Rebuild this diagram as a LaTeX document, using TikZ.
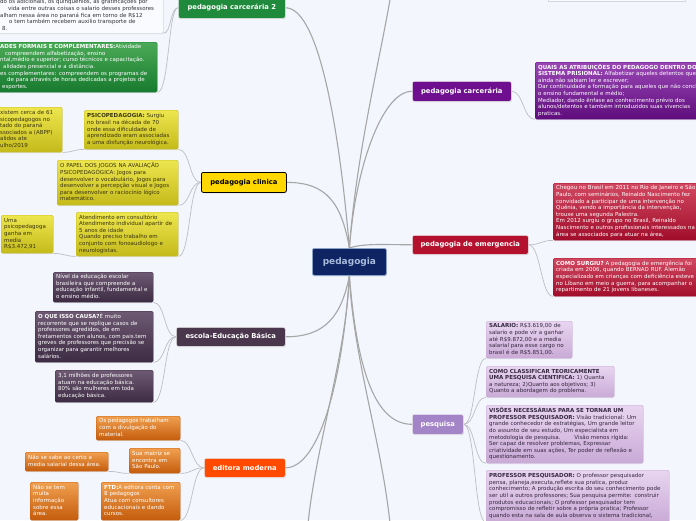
\documentclass[tikz,border=0pt]{standalone}
\usepackage{fontspec}
\setmainfont{DejaVu Sans}
\usetikzlibrary{shadows}
\definecolor{bgc}{HTML}{F3F6FD}
\definecolor{brc}{HTML}{A6A6A6}
\definecolor{chc}{HTML}{BEBEC4}
\definecolor{ctrfill}{HTML}{0E2463}
\definecolor{ctrdraw}{HTML}{8CA0C8}
\definecolor{ctrtext}{HTML}{AABCDC}
\definecolor{grn}{HTML}{208A3C}
\definecolor{ylw}{HTML}{FFD800}
\definecolor{mve}{HTML}{4A374D}
\definecolor{org}{HTML}{FF4A00}
\definecolor{prp}{HTML}{6D0F8E}
\definecolor{crm}{HTML}{B3112E}
\definecolor{lav}{HTML}{A384C6}
\definecolor{grnT}{HTML}{4BAA57}\definecolor{grnB}{HTML}{177A2E}
\definecolor{ylwT}{HTML}{EDE64E}\definecolor{ylwB}{HTML}{C4BA1B}
\definecolor{mveT}{HTML}{6E5A73}\definecolor{mveB}{HTML}{3C2B42}
\definecolor{orgT}{HTML}{F0A050}\definecolor{orgB}{HTML}{C45C0C}
\definecolor{prpT}{HTML}{9A47B6}\definecolor{prpB}{HTML}{5F0C7C}
\definecolor{crmT}{HTML}{D24861}\definecolor{crmB}{HTML}{A00D2A}
\definecolor{lavT}{HTML}{E8D5F0}\definecolor{lavB}{HTML}{C9AAD6}
\definecolor{ytext}{HTML}{3B3510}
\definecolor{ltext}{HTML}{35273F}
\definecolor{wbox}{HTML}{FAFBFF}
\definecolor{wdraw}{HTML}{D3D6DF}
\newcommand{\mltxt}[1]{\noindent\begin{tabular}{@{}l@{}}#1\end{tabular}}
\pgfdeclarelayer{bgl}
\pgfsetlayers{bgl,main}
\tikzset{
  sz/.code 2 args={\pgfmathsetmacro\boxtw{#1-6}\pgfkeysalso{minimum width=#1pt,minimum height=#2pt,text width=\boxtw pt}},
  kid/.style 2 args={anchor=north west, rounded corners=1.5pt, top color=#1, bottom color=#2, draw=#2, line width=0.4pt, inner xsep=3pt, inner ysep=0pt, align=left, font=\fontsize{5.5}{6.6}\selectfont, text=white, drop shadow={opacity=0.15, shadow xshift=0.4pt, shadow yshift=-0.8pt}},
  branch/.style={anchor=north west, rounded corners=2pt, inner sep=0pt, font=\bfseries\fontsize{6.8}{8}\selectfont, text=white, draw=white!85!gray, line width=0.6pt, drop shadow={opacity=0.25, shadow xshift=0.5pt, shadow yshift=-0.9pt}},
  bsz/.style 2 args={minimum width=#1pt, minimum height=#2pt},
  brl/.style={draw=brc, line width=1.1pt},
  chl/.style={draw=chc, line width=0.7pt},
}
\begin{document}
\begin{tikzpicture}[x=1pt,y=-1pt]
\useasboundingbox (0,0) rectangle (696,520);
\begin{pgfonlayer}{bgl}
\fill[bgc] (0,0) rectangle (696,520);
\end{pgfonlayer}

% central node
\node[anchor=north west, minimum width=74pt, minimum height=27pt, inner sep=0pt, rounded corners=2pt, fill=ctrfill, draw=ctrdraw, line width=0.8pt, text=ctrtext, font=\bfseries\fontsize{9}{11}\selectfont, drop shadow={opacity=0.25, shadow xshift=0.5pt, shadow yshift=-0.9pt}] (ctr) at (312,248) {pedagogia};

% main branches
\node[branch, bsz={107}{21}, fill=grn] (gr2) at (178,-3) {pedagogia carcerária 2};
\node[branch, bsz={85}{20}, fill=ylw, draw=black, line width=0.8pt, text=black] (clin) at (201,172) {pedagogia clinica};
\node[branch, bsz={109}{19}, fill=mve] (esc) at (176,327) {escola-Educação Básica};
\node[branch, bsz={81}{19}, fill=org] (edi) at (204,458) {editora moderna};
\node[branch, bsz={99}{20}, fill=prp] (carc) at (412,81) {pedagogia carcerária};
\node[branch, bsz={116}{19}, fill=crm] (emer) at (412,235) {pedagogia de emergencia};
\node[branch, bsz={51}{20}, fill=lav] (pesq) at (412,414) {pesquisa};

% partial box at the top right
\node[anchor=north west, minimum width=137pt, minimum height=21pt, inner sep=0pt, fill=wbox, draw=wdraw, line width=0.5pt] (topbox) at (548,-20.5) {};

% off-canvas ends
\coordinate (offt) at (394,-30);
\coordinate (offb1) at (306,550);
\coordinate (offb2) at (392,550);

% green children
\node[kid={wbox}{wbox}, draw=wdraw, text=black!80, sz={166}{35}] (boxA) at (-3,-2) {\mltxt{do os adicionais, os quinquênios, as gratificações por\\
\hspace{8pt}vida entre outras coisas o salario desses professores\\
alham nessa área no paraná fica em torno de R\$12\\
\hspace{9pt}o tem também recebem auxilio transporte de\\
\hspace{2pt}8.}};
\node[kid={grnT}{grnB}, sz={160}{50}] (boxB) at (-3,42) {\mltxt{\textbf{ADES FORMAIS E COMPLEMENTARES:}Atividade\\
\hspace{5pt}compreendem alfabetização, ensino\\
ntal,médio e superior; curso técnicos e capacitação.\\
\hspace{3pt}alidades presencial e a distância.\\
es complementares: compreendem os programas de\\
\hspace{7pt}de para através de horas dedicadas a projetos de\\
\hspace{2pt}esportes.}};

% clinic children
\node[kid={ylwT}{ylwB}, text=ytext, sz={94}{39}] (P1) at (84,110) {\mltxt{\textbf{PSICOPEDAGOGIA:} Surgiu\\no brasil na década de 70\\onde essa dificuldade de\\aprendizado eram associadas\\a uma disfunção neurológica.}};
\node[kid={ylwT}{ylwB}, text=ytext, sz={121}{45}] (P2) at (57,160) {\mltxt{O PAPEL DOS JOGOS NA AVALIAÇÃO\\PSICOPEDAGÓGICA: Jogos para\\desenvolver o vocabulário, Jogos para\\desenvolver a percepção visual e Jogos\\para desenvolver o raciocínio lógico\\matemático.}};
\node[kid={ylwT}{ylwB}, text=ytext, sz={102}{44}] (P3) at (76,212) {\mltxt{Atendimento em consultório\\Atendimento individual apartir de\\5 anos de idade\\Quando preciso trabalho em\\conjunto com fonoaudiologo e\\neurologistas.}};
\node[kid={ylwT}{ylwB}, text=ytext, sz={65}{45}] (P4) at (-3,107) {\mltxt{xistem cerca de 61\\sicopedagogos no\\tado do paraná\\ssociados a (ABPP)\\alidos ate\\ulho/2019}};
\node[kid={ylwT}{ylwB}, text=ytext, sz={52}{38}] (P5) at (1,215) {\mltxt{Uma\\psicopedagoga\\ganha em\\media\\R\$3.472,91}};

% escola children
\node[kid={mveT}{mveB}, sz={100}{30}] (E1) at (53,272) {\mltxt{Nível da educação escolar\\brasileira que compreende a\\educação infantil, fundamental e\\o ensino médio.}};
\node[kid={mveT}{mveB}, sz={118}{51}] (E2) at (35,311) {\mltxt{\textbf{O QUE ISSO CAUSA?}É muito\\recorrente que se replique casos de\\professores agredidos, de em\\fretamentos com alunos, com pais.tem\\greves de professores que precisão se\\organizar para garantir melhores\\salários.}};
\node[kid={mveT}{mveB}, sz={98}{32}] (E3) at (55,370) {\mltxt{3,1 milhões de professores\\atuam na educação básica.\\80\% são mulheres em toda\\educação básica.}};

% editora children
\node[kid={orgT}{orgB}, sz={84}{24}] (O1) at (96,416) {\mltxt{Os pedagogos trabalham\\com a divulgação do\\material.}};
\node[kid={orgT}{orgB}, sz={51}{25}] (O2) at (129,448) {\mltxt{Sua matriz se\\encontra em\\São Paulo.}};
\node[kid={orgT}{orgB}, sz={79}{38}] (O3) at (101,482) {\mltxt{\textbf{FTD:}A editora conta com\\8 pedagogos\\Atua com consultores\\educacionais e dando\\cursos.}};
\node[kid={orgT}{orgB}, sz={83}{19}] (O4) at (25,452) {\mltxt{Não se sabe ao certo a\\media salarial dessa área.}};
\node[kid={orgT}{orgB}, sz={48}{38}] (O5) at (30,482) {\mltxt{Não se tem\\muita\\informação\\sobre essa\\área.}};

% carceraria child
\node[kid={prpT}{prpB}, sz={175}{57}] (C1) at (535,62) {\mltxt{\textbf{QUAIS AS ATRIBUIÇÕES DO PEDAGOGO DENTRO DO}\\\textbf{SISTEMA PRISIONAL:} Alfabetizar aqueles detentos que\\ainda não sabiam ler e escrever;\\Dar continuidade a formação para aqueles que não concluíram\\o ensino fundamental e médio;\\Mediador, dando ênfase ao conhecimento prévio dos\\alunos/detentos e também introduzidos suas vivencias\\praticas.}};

% emergencia children
\node[kid={crmT}{crmB}, sz={155}{57}] (R1) at (553,183) {\mltxt{Chegou no Brasil em 2011 no Rio de Janeiro e São\\Paulo, com seminários, Reinaldo Nascimento fez\\convidado a participar de uma intervenção no\\Quênia, vendo a importância da intervenção,\\trouxe uma segunda Palestra.\\Em 2012 surgiu o grupo no Brasil, Reinaldo\\Nascimento e outros profissionais interessados na\\área se associados para atuar na área,}};
\node[kid={crmT}{crmB}, sz={155}{38}] (R2) at (553,258) {\mltxt{\textbf{COMO SURGIU?} A pedagogia de emergência foi\\criada em 2006, quando BERNAD RUF. Alemão\\especializado em crianças com deficiência esteve\\no Líbano em meio a guerra, para acompanhar o\\repartimento de 21 jovens libaneses.}};

% pesquisa children
\node[kid={lavT}{lavB}, text=ltext, sz={86}{37}] (Q1) at (486,321) {\mltxt{\textbf{SALARIO:} R\$3.619,00 de\\salario e pode vir a ganhar\\até R\$9.872,00 e a media\\salarial para esse cargo no\\brasil é de R\$5.851,00.}};
\node[kid={lavT}{lavB}, text=ltext, sz={128}{31}] (Q2) at (486,366) {\mltxt{\textbf{COMO CLASSIFICAR TEORICAMENTE}\\\textbf{UMA PESQUISA CIENTIFICA:} 1) Quanta\\a natureza; 2)Quanto aos objetivos; 3)\\Quanto a abordagem do problema.}};
\node[kid={lavT}{lavB}, text=ltext, sz={157}{58}] (Q3) at (486,405) {\mltxt{\textbf{VISÕES NECESSÁRIAS PARA SE TORNAR UM}\\\textbf{PROFESSOR PESQUISADOR:} Visão tradicional: Um\\grande conhecedor de estratégias, Um grande leitor\\do assunto de seu estudo, Um especialista em\\metodologia de pesquisa.\hspace{14pt}Visão menos rígida:\\Ser capaz de resolver problemas, Expressar\\criatividade em suas ações, Ter poder de reflexão e\\questionamento.}};
\node[kid={lavT}{lavB}, text=ltext, sz={183}{52}] (Q4) at (486,470) {\mltxt{\textbf{PROFESSOR PESQUISADOR:} O professor pesquisador\\pensa, planeja,executa,reflete sua pratica, produz\\conhecimento; A produção escrita do seu conhecimento pode\\ser util a outros professores; Sua pesquisa permite: construir\\produtos educacionais; O professor pesquisador tem\\compromisso de refletir sobre a própria pratica; Professor\\quando esta na sala de aula observa o sistema tradicional,}};

\begin{pgfonlayer}{bgl}
% branch connectors
\draw[brl] (ctr.north) .. controls +(-12,-140) and +(30,0) .. (gr2.east);
\draw[brl] (ctr.north) .. controls +(-8,-45) and +(40,0) .. (clin.east);
\draw[brl] (ctr.north) .. controls +(8,-110) and +(-4,50) .. (offt);
\draw[brl] (ctr.north) .. controls +(6,-80) and +(-30,0) .. (carc.west);
\draw[brl] (ctr.north) .. controls +(15,-5) and +(-25,0) .. (emer.west);
\draw[brl] (ctr.south) .. controls +(-8,40) and +(40,0) .. (esc.east);
\draw[brl] (ctr.south) .. controls +(-8,120) and +(30,0) .. (edi.east);
\draw[brl] (ctr.south) .. controls +(8,100) and +(-35,0) .. (pesq.west);
\draw[brl] (ctr.south) .. controls +(-4,90) and +(4,-90) .. (offb1);
\draw[brl] (ctr.south) .. controls +(4,90) and +(-4,-90) .. (offb2);
% child connectors
\draw[chl] (gr2.west) .. controls +(-8,0) and +(8,0) .. (boxA.south east);
\draw[chl] (gr2.west) .. controls +(-10,0) and +(12,0) .. (boxB.south east);
\draw[chl] (clin.west) .. controls +(-12,0) and +(12,0) .. (P1.south east);
\draw[chl] (clin.west) .. controls +(-12,0) and +(12,0) .. (P2.south east);
\draw[chl] (clin.west) .. controls +(-12,0) and +(12,0) .. (P3.south east);
\draw[chl] (P1.south west) .. controls +(-10,0) and +(10,0) .. (P4.south east);
\draw[chl] (P3.south west) .. controls +(-10,0) and +(10,0) .. (P5.south east);
\draw[chl] (esc.west) .. controls +(-12,0) and +(12,0) .. (E1.south east);
\draw[chl] (esc.west) .. controls +(-12,0) and +(12,0) .. (E2.south east);
\draw[chl] (esc.west) .. controls +(-12,0) and +(12,0) .. (E3.south east);
\draw[chl] (edi.west) .. controls +(-12,0) and +(12,0) .. (O1.south east);
\draw[chl] (edi.west) .. controls +(-12,0) and +(12,0) .. (O2.south east);
\draw[chl] (edi.west) .. controls +(-12,0) and +(12,0) .. (O3.south east);
\draw[chl] (O2.south west) .. controls +(-10,0) and +(10,0) .. (O4.south east);
\draw[chl] (carc.east) .. controls +(12,0) and +(-12,0) .. (C1.south west);
\draw[chl] (emer.east) .. controls +(12,0) and +(-12,0) .. (R1.south west);
\draw[chl] (emer.east) .. controls +(12,0) and +(-12,0) .. (R2.south west);
\draw[chl] (pesq.east) .. controls +(12,0) and +(-12,0) .. (Q1.south west);
\draw[chl] (pesq.east) .. controls +(12,0) and +(-12,0) .. (Q2.south west);
\draw[chl] (pesq.east) .. controls +(12,0) and +(-12,0) .. (Q3.south west);
\draw[chl] (pesq.east) .. controls +(12,0) and +(-12,0) .. (Q4.south west);
\end{pgfonlayer}
\end{tikzpicture}
\end{document}
